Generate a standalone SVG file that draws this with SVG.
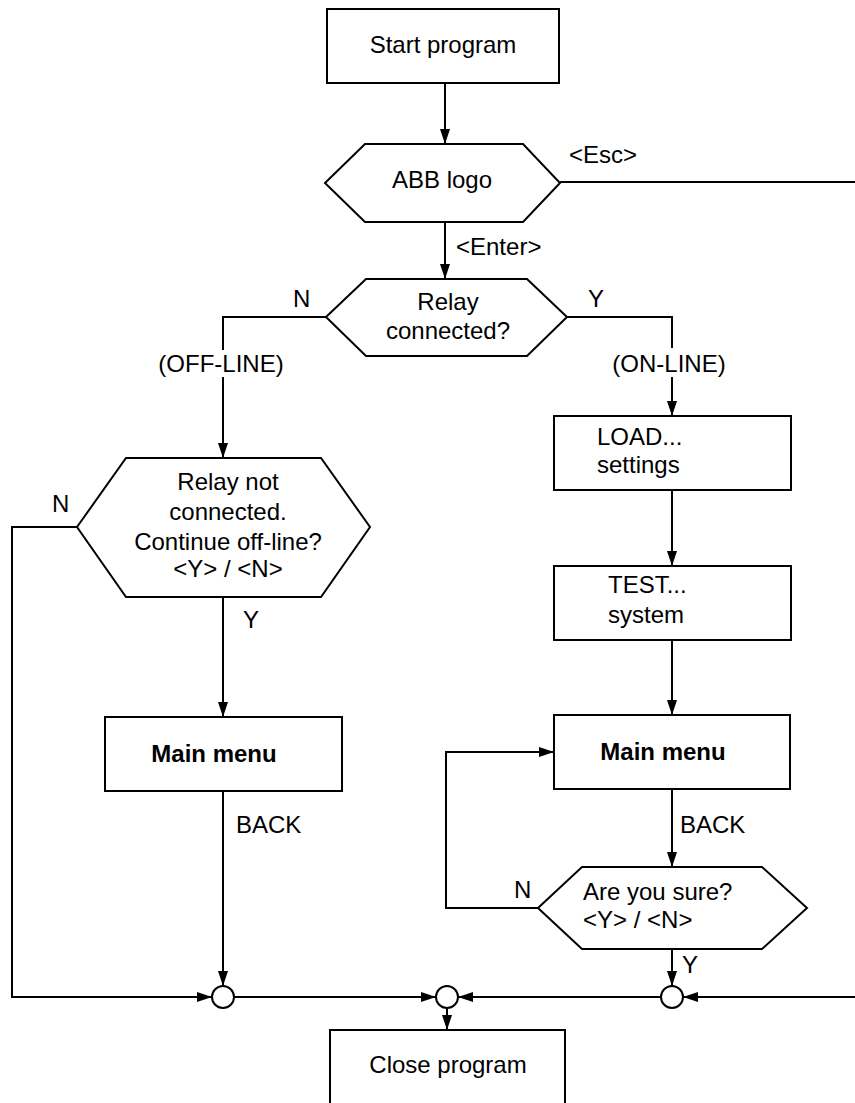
<svg xmlns="http://www.w3.org/2000/svg" width="855" height="1103" viewBox="0 0 855 1103">
<style>
.s{fill:#fff;stroke:#000;stroke-width:2}
.c{fill:none;stroke:#000;stroke-width:2;stroke-linejoin:miter}
.a{marker-end:url(#ah)}
text{font-family:"Liberation Sans",Arial,sans-serif;font-size:24px;fill:#000}
.m{text-anchor:middle}
.b{font-weight:bold}
</style>
<defs>
<marker id="ah" markerUnits="userSpaceOnUse" markerWidth="16" markerHeight="10" refX="15" refY="5" orient="auto">
<path d="M0,0 L15,5 L0,10 z" fill="#000"/>
</marker>
</defs>
<rect width="855" height="1103" fill="#fff"/>
<g id="connectors">
<path class="c a" d="M445,83 V144"/>
<path class="c" d="M560,182 H855"/>
<path class="c a" d="M445,222 V279"/>
<path class="c" d="M326,317 H223 V350"/>
<path class="c a" d="M223,377 V458"/>
<path class="c" d="M567,317 H672 V348"/>
<path class="c a" d="M672,377 V416"/>
<path class="c a" d="M672,490 V566"/>
<path class="c a" d="M672,640 V715"/>
<path class="c a" d="M672,789 V867"/>
<path class="c a" d="M672,949 V986"/>
<path class="c a" d="M538,908 H446 V752 H554"/>
<path class="c a" d="M223,597 V717"/>
<path class="c a" d="M223,791 V986"/>
<path class="c a" d="M77,527 H12 V997 H212"/>
<path class="c a" d="M234,997 H436"/>
<path class="c a" d="M661,997 H458"/>
<path class="c a" d="M855,997 H683"/>
<path class="c a" d="M447,1008 V1030"/>
</g>
<g id="start"><rect class="s" x="327" y="9" width="232" height="74"/><text class="m" x="443" y="53">Start program</text></g>
<g id="abb"><polygon class="s" points="325,183 365,144 523,144 560,183 523,222 365,222"/><text class="m" x="442" y="188">ABB logo</text></g>
<g id="relay"><polygon class="s" points="326,317 366,279 527,279 567,317 527,356 366,356"/><text class="m" x="448" y="310">Relay</text><text class="m" x="448" y="339">connected?</text></g>
<g id="notconn"><polygon class="s" points="77,527 126,458 321,458 370,527 321,597 126,597"/><text class="m" x="228" y="490">Relay not</text><text class="m" x="228" y="520">connected.</text><text class="m" x="228" y="550">Continue off-line?</text><text class="m" x="228" y="577">&lt;Y&gt; / &lt;N&gt;</text></g>
<g id="load"><rect class="s" x="554" y="416" width="237" height="74"/><text x="597" y="445">LOAD...</text><text x="597" y="473">settings</text></g>
<g id="test"><rect class="s" x="554" y="566" width="237" height="74"/><text x="608" y="593">TEST...</text><text x="608" y="623">system</text></g>
<g id="mainL"><rect class="s" x="105" y="717" width="237" height="74"/><text class="m b" x="214" y="762">Main menu</text></g>
<g id="mainR"><rect class="s" x="554" y="715" width="236" height="74"/><text class="m b" x="663" y="760">Main menu</text></g>
<g id="sure"><polygon class="s" points="538,908 582,867 762,867 807,908 762,949 582,949"/><text x="583" y="900">Are you sure?</text><text x="583" y="928">&lt;Y&gt; / &lt;N&gt;</text></g>
<g id="j1"><circle class="s" cx="223" cy="997" r="11"/></g>
<g id="j2"><circle class="s" cx="447" cy="997" r="11"/></g>
<g id="j3"><circle class="s" cx="672" cy="997" r="11"/></g>
<g id="close"><rect class="s" x="330" y="1030" width="235" height="90"/><text class="m" x="448" y="1073">Close program</text></g>
<g id="labels">
<text x="569" y="163">&lt;Esc&gt;</text>
<text x="456" y="255">&lt;Enter&gt;</text>
<text x="293" y="307">N</text>
<text x="588" y="307">Y</text>
<text class="m" x="221" y="372">(OFF-LINE)</text>
<text class="m" x="669" y="372">(ON-LINE)</text>
<text x="52" y="512">N</text>
<text x="243" y="628">Y</text>
<text x="236" y="833">BACK</text>
<text x="680" y="833">BACK</text>
<text x="514" y="898">N</text>
<text x="682" y="973">Y</text>
</g>
</svg>
